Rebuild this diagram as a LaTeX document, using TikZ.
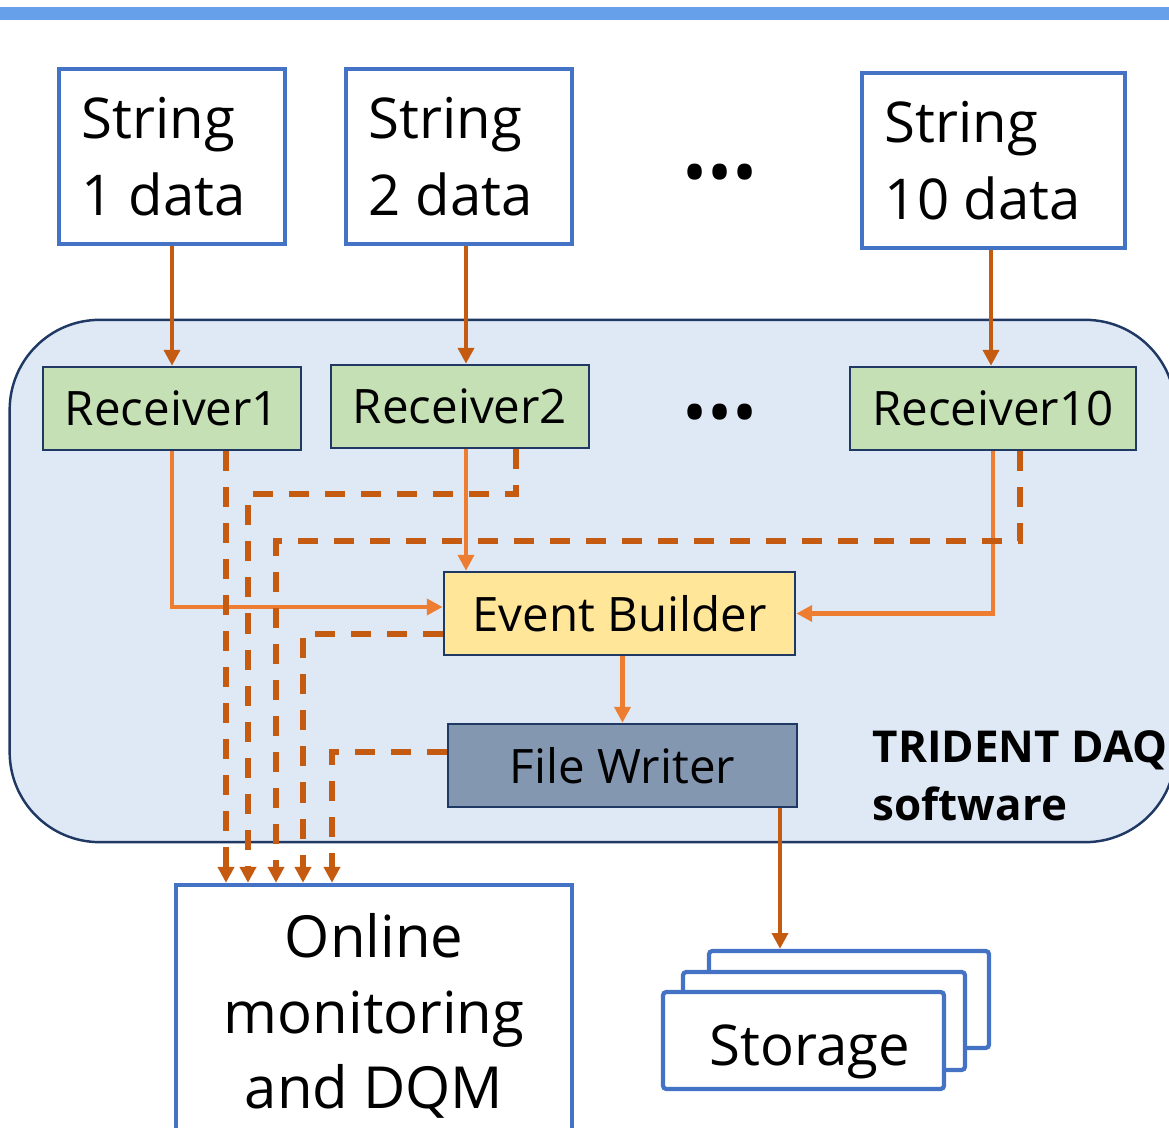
\documentclass[tikz,border=0pt]{standalone}
\usepackage{fontspec}
\setmainfont{Open Sans}
\usetikzlibrary{arrows.meta}

\definecolor{boxblue}{HTML}{4472C4}
\definecolor{navy}{HTML}{203864}
\definecolor{daqfill}{HTML}{DEE9F5}
\definecolor{recfill}{HTML}{C5E0B4}
\definecolor{ebfill}{HTML}{FFE699}
\definecolor{fwfill}{HTML}{8497B0}
\definecolor{darkorg}{HTML}{C55A11}
\definecolor{liteorg}{HTML}{ED7D31}
\definecolor{topbar}{HTML}{67A0EA}

\begin{document}
\begin{tikzpicture}[x=0.01cm, y=-0.01cm, >={Triangle[length=4.5pt,width=4.5pt]},
  inbox/.style={draw=boxblue, line width=1.2pt, fill=white, align=left, inner sep=0pt, font=\fontsize{16}{22}\selectfont},
  strbox/.style={inbox, inner xsep=0.23cm, minimum height=1.75cm, execute at begin node={\spaceskip=0pt\relax}},
  stage/.style={draw=navy, line width=0.7pt, inner sep=0pt, minimum height=0.83cm, font=\fontsize{13.5}{16}\selectfont},
  rec/.style={stage, fill=recfill, minimum width=2.58cm},
  feed/.style={->, draw=darkorg, line width=1.3pt},
  flow/.style={->, draw=liteorg, line width=1.4pt},
  tap/.style={->, draw=darkorg, line width=1.6pt, dash pattern=on 0.2cm off 0.16cm},
  dots/.style={font=\fontsize{19}{24}\selectfont, inner sep=0pt}]
\useasboundingbox (0,0) rectangle (1169,1128);
\fill[topbar] (0,7) rectangle (1169,20);
% software frame
\node[draw=navy, line width=0.7pt, fill=daqfill, rounded corners=0.9cm,
  minimum width=11.65cm, minimum height=5.22cm, inner sep=0pt] (daq) at (592.5,581) {};
\node[anchor=west, align=left, inner sep=0pt, font=\bfseries\fontsize{12.5}{16.5}\selectfont] (daqlbl) at (872,776) {TRIDENT DAQ\\software};
% inputs
\node[strbox, text width=1.80cm] (str1) at (172,156.5) {String\\1 data};
\node[strbox, text width=1.80cm] (str2) at (459,156.5) {String\\2 data};
\node[strbox, text width=2.17cm] (str10) at (993.5,160.5) {String\\10 data};
\node[dots] (sdots) at (720,180) {•••};
% receivers
\node[rec] (rec1) at (172,408.5) {Receiver1};
\node[rec] (rec2) at (460,406.5) {Receiver2};
\node[rec, minimum width=2.86cm] (rec10) at (993,408.5) {Receiver10};
\node[dots] (rdots) at (720,420) {•••};
\node[stage, fill=ebfill, minimum width=3.51cm] (eb) at (619.5,613.5) {Event Builder};
\node[stage, fill=fwfill, minimum width=3.49cm] (fw) at (622.5,765.5) {File Writer};
% outputs
\node[inbox, align=center, minimum width=3.96cm, minimum height=2.62cm, font=\fontsize{16.5}{21.5}\selectfont] (mon) at (374,1016) {Online\\monitoring\\and DQM};
\node[inbox, minimum width=2.80cm, minimum height=0.97cm, rounded corners=1pt] (storC) at (849,999.5) {};
\node[inbox, minimum width=2.82cm, minimum height=0.98cm, rounded corners=1pt] (storB) at (824,1021) {};
\node[inbox, minimum width=2.81cm, minimum height=0.97cm, rounded corners=1pt, text height=0.49cm, text depth=0cm] (storA) at (803.5,1040.5) {\hspace{0.13cm}Storage};
% data flow
\draw[feed] (str1) -- (rec1);
\draw[feed] (str2.south -| 466,0) -- (rec2.north -| 466,0);
\draw[feed] (str10.south -| 991,0) -- (rec10.north -| 991,0);
\draw[flow] (rec1.south) |- (eb.west |- 0,607);
\draw[flow] (rec2.south -| 466,0) -- (eb.north -| 466,0);
\draw[flow] (rec10.south) |- (eb.east);
\draw[flow] (eb.south -| fw) -- (fw.north);
\draw[feed] (fw.south -| 780,0) -- (storC.north -| 780,0);
% monitoring taps
\draw[tap] (rec1.south -| 226,0) -- (mon.north -| 226,0);
\draw[tap] (rec2.south -| 516,0) -- ++(0,45) -| (mon.north -| 248,0);
\draw[tap] (rec10.south -| 1020,0) -- ++(0,90) -| (mon.north -| 276,0);
\draw[tap] (eb.west |- 0,634) -| (mon.north -| 303,0);
\draw[tap] (fw.west |- 0,752) -| (mon.north -| 332,0);
\end{tikzpicture}
\end{document}
